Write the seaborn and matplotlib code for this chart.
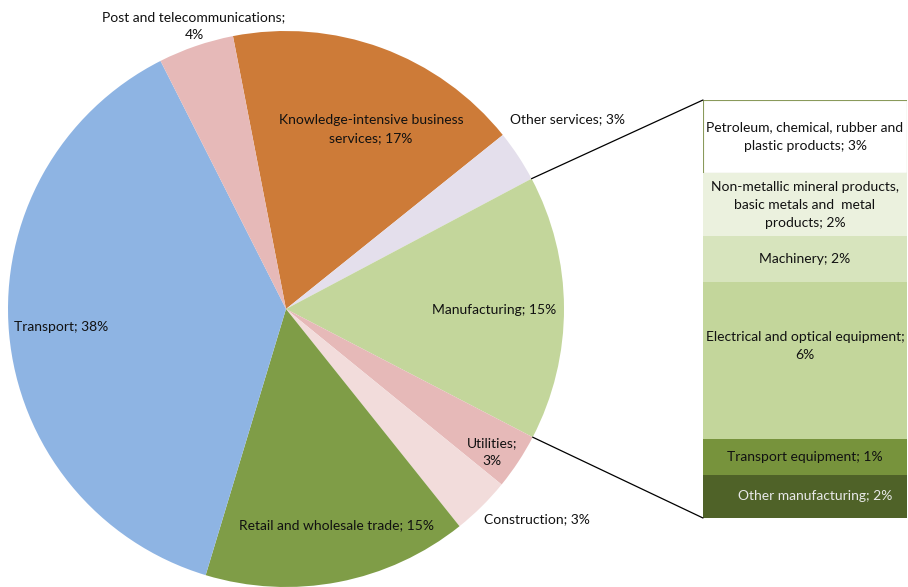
import numpy as np
import matplotlib
matplotlib.use("Agg")
import matplotlib.pyplot as plt
from matplotlib.patches import ConnectionPatch
import seaborn as sns

sns.set_style("white")
plt.rcParams["font.family"] = ["Lato", "DejaVu Sans"]

# pie: clockwise from the Post / KIBS boundary
pie_labels = ["Knowledge-intensive business\nservices", "Other services", "Manufacturing",
              "Utilities;\n", "Construction", "Retail and wholesale trade", "Transport",
              "Post and telecommunications;\n"]
pie_values = [17.3, 3.0, 15.4, 3.25, 3.4, 15.4, 37.9, 4.4]
pie_colors = ["#CD7B38", "#E4DFEC", "#C3D69B", "#E6B9B8", "#F2DCDB", "#7F9D47", "#8EB4E3", "#E6B9B8"]

# manufacturing breakdown, top to bottom
bar_labels = ["Petroleum, chemical, rubber and\nplastic products", 
              "Non-metallic mineral products,\nbasic metals and  metal\nproducts",
              "Machinery", "Electrical and optical equipment;\n", "Transport equipment",
              "Other manufacturing"]
bar_values = [2.7, 2.3, 1.7, 5.8, 1.3, 1.6]
bar_colors = ["#FFFFFF", "#EBF1DE", "#D7E4BD", "#C3D69B", "#77933C", "#4F6228"]
bar_text_colors = ["#111111"] * 5 + ["#E8E8E8"]

# label placement (pie data units / bar offsets)
pie_label_pos = [(0.306, 0.647), (1.014, 0.683), (0.748, -0.004), (0.741, -0.514),
                 (0.903, -0.755), (0.180, -0.777), (-0.809, -0.065), (-0.331, 1.018)]
bar_label_dy = [0, 0, 0, 0.55, 0, 0]
bar_label_dx = [0, 0, 0, 0, 0, 0.05]

FS = 10
LS = 1.6

W, H = 908, 587
fig = plt.figure(figsize=(W / 100, H / 100), dpi=100)

cx, cy, r = 286, 309, 278
ax_pie = fig.add_axes([(cx - r) / W, (H - cy - r) / H, 2 * r / W, 2 * r / H])
wedges, _ = ax_pie.pie(pie_values, colors=pie_colors, startangle=101.0, counterclock=False,
                       radius=1, wedgeprops=dict(linewidth=0))
ax_pie.set_xlim(-1, 1)
ax_pie.set_ylim(-1, 1)
ax_pie.set_aspect("equal")
ax_pie.axis("off")

for lab, v, (x, y) in zip(pie_labels, pie_values, pie_label_pos):
    sep = "" if lab.endswith("\n") else "; "
    ax_pie.text(x, y, f"{lab}{sep}{round(v)}%", ha="center", va="center",
                fontsize=FS, color="#111111", linespacing=LS)

# stacked bar
bx0, bx1, by0, by1 = 703, 907, 100, 518
ax_bar = fig.add_axes([bx0 / W, (H - by1) / H, (bx1 - bx0) / W, (by1 - by0) / H])
total = sum(bar_values)
bottoms = np.cumsum([0] + bar_values[::-1][:-1])[::-1]
for i, (v, b, c) in enumerate(zip(bar_values, bottoms, bar_colors)):
    edge = "#8A9A5B" if i == 0 else c
    ax_bar.bar(0, v, bottom=b, width=1, color=c, edgecolor=edge, linewidth=0.8 if i == 0 else 0)
    lab = bar_labels[i]
    sep = "" if lab.endswith("\n") else "; "
    ax_bar.text(bar_label_dx[i], b + v / 2 + bar_label_dy[i], f"{lab}{sep}{round(v)}%",
                ha="center", va="center", fontsize=FS, color=bar_text_colors[i], linespacing=LS)
ax_bar.set_xlim(-0.5, 0.5)
ax_bar.set_ylim(0, total)
ax_bar.axis("off")

# connector lines from the manufacturing wedge to the bar corners
mw = wedges[2]
for ang, yb in [(mw.theta2, total), (mw.theta1, 0)]:
    px, py = np.cos(np.radians(ang)), np.sin(np.radians(ang))
    con = ConnectionPatch(xyA=(px, py), coordsA=ax_pie.transData, xyB=(-0.5, yb),
                          coordsB=ax_bar.transData, color="black", linewidth=0.9)
    fig.add_artist(con)

fig.savefig("out.png", dpi=100)
